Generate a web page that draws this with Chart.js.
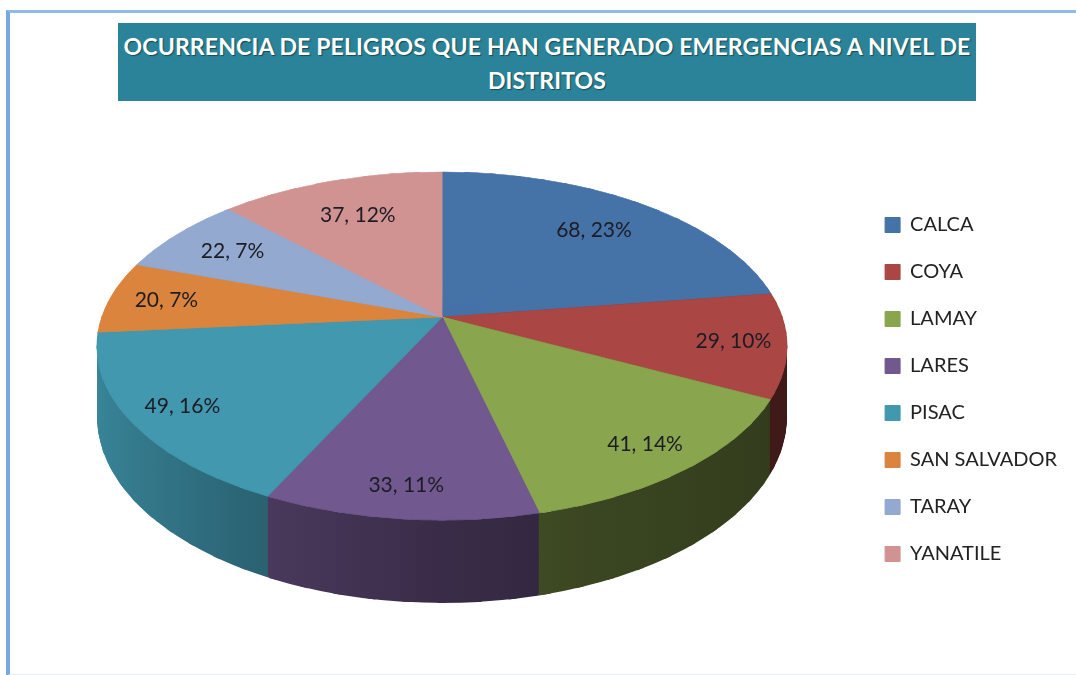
<!DOCTYPE html>
<html>
<head>
<meta charset="utf-8">
<title>Ocurrencia de peligros por distrito</title>
<script src="https://cdn.jsdelivr.net/npm/chart.js@4.4.0/dist/chart.umd.min.js"></script>
<style>
  html, body { margin: 0; padding: 0; background: #fff; }
  body { width: 1076px; height: 675px; position: relative; overflow: hidden; font-family: Lato, "Open Sans", sans-serif; }
  .frame {
    position: absolute; left: 6px; top: 10px; width: 1100px; height: 661px;
    border-left: 4px solid #74aae0; border-top: 3px solid #8fbbe8; border-bottom: 2px solid #e3eef9;
  }
  #wrap { position: absolute; left: 0; top: 0; width: 1076px; height: 675px; }
  .title {
    position: absolute; left: 118px; top: 23px; width: 858px; height: 78px;
    box-sizing: border-box; padding-top: 6px;
    background: #2a8399; color: #fff; text-align: center;
    font-weight: 700; font-size: 23px; line-height: 34px; letter-spacing: 0.15px;
    text-shadow: 1px 1px 1px rgba(0, 0, 0, 0.45);
  }
</style>
</head>
<body>
<div class="frame"></div>
<div id="wrap"><canvas id="chartPie" width="1076" height="675"></canvas></div>
<div class="title">OCURRENCIA DE PELIGROS QUE HAN GENERADO EMERGENCIAS A NIVEL DE<br>DISTRITOS</div>
<script>
(function () {
  var districts = ["CALCA", "COYA", "LAMAY", "LARES", "PISAC", "SAN SALVADOR", "TARAY", "YANATILE"];
  var occurrences = [68, 29, 41, 33, 49, 20, 22, 37];
  var sliceColors = ["#4572A7", "#AA4643", "#89A54E", "#71588F", "#4198AF", "#DB843D", "#93A9CF", "#D19392"];

  // ── perspective view of a tilted disc (pie center, rim scale, tilt, wall depth) ──
  var VIEW = { cx: 442, cy: 317, C: 340, B: 169.2, a: 0.1667, D: 69.1 };
  var WEDGE = Math.PI / 36;      // 5° pieces, each drawn with its own affine view
  var MARGIN = 0.01;
  var WALL_STEPS = 90;
  var SIDE_SHADE = [[0, 0.88], [0.26, 0.66], [0.5, 0.5], [0.7, 0.42], [1, 0.36]];

  var total = occurrences.reduce(function (a, b) { return a + b; }, 0);

  function shade(hex, f) {
    var n = parseInt(hex.slice(1), 16);
    var r = Math.round(((n >> 16) & 255) * f);
    var g = Math.round(((n >> 8) & 255) * f);
    var b = Math.round((n & 255) * f);
    return "rgb(" + r + "," + g + "," + b + ")";
  }

  function project(u, v, h) {
    var w = 1 - VIEW.a * v;
    return [VIEW.cx + VIEW.C * u / w, VIEW.cy + (VIEW.B * v + VIEW.D * h) / w];
  }

  // affine map taking the chart's (center, rim@p1, rim@p2) onto their projections
  function wedgeView(ctx, a0, p1, p2, h) {
    var R = a0.outerRadius;
    var P0 = project(0, 0, h);
    var P1 = project(Math.cos(p1), Math.sin(p1), h);
    var P2 = project(Math.cos(p2), Math.sin(p2), h);
    var e1x = R * Math.cos(p1), e1y = R * Math.sin(p1);
    var e2x = R * Math.cos(p2), e2y = R * Math.sin(p2);
    var d1x = P1[0] - P0[0], d1y = P1[1] - P0[1];
    var d2x = P2[0] - P0[0], d2y = P2[1] - P0[1];
    var det = e1x * e2y - e2x * e1y;
    var m11 = (d1x * e2y - d2x * e1y) / det, m12 = (d2x * e1x - d1x * e2x) / det;
    var m21 = (d1y * e2y - d2y * e1y) / det, m22 = (d2y * e1x - d1y * e2x) / det;
    ctx.transform(m11, m21, m12, m22,
      P0[0] - m11 * a0.x - m12 * a0.y,
      P0[1] - m21 * a0.x - m22 * a0.y);
    // clip starts a little behind the center so neighbouring pieces overlap there too
    var mid = (p1 + p2) / 2;
    ctx.beginPath();
    ctx.moveTo(a0.x - Math.cos(mid) * R * 0.04, a0.y - Math.sin(mid) * R * 0.04);
    ctx.arc(a0.x, a0.y, R * 1.05, p1 - MARGIN, p2 + MARGIN);
    ctx.closePath();
    ctx.clip();
  }

  function overlaps(arc, p1, p2) {
    return arc.startAngle < p2 + MARGIN && arc.endAngle > p1 - MARGIN;
  }

  var pie3d = {
    id: "pie3d",
    beforeDatasetsDraw: function (chart) {
      var ctx = chart.ctx;
      var arcs = chart.getDatasetMeta(0).data;
      var a0 = arcs[0];
      var R = a0.outerRadius;
      var start = -Math.PI / 2;
      var n = Math.round(2 * Math.PI / WEDGE);

      var grads = arcs.map(function (arc, i) {
        var g = ctx.createLinearGradient(a0.x - R, 0, a0.x + R, 0);
        SIDE_SHADE.forEach(function (s) { g.addColorStop(s[0], shade(sliceColors[i], s[1])); });
        return g;
      });

      // side wall, deepest layer first
      for (var k = WALL_STEPS; k >= 1; k--) {
        var h = k / WALL_STEPS;
        for (var w = 0; w < n; w++) {
          var p1 = start + w * WEDGE, p2 = p1 + WEDGE;
          if (p2 < -0.3 || p1 > Math.PI + 0.3) continue;
          ctx.save();
          wedgeView(ctx, a0, p1, p2, h);
          arcs.forEach(function (arc, i) {
            if (!overlaps(arc, p1, p2)) return;
            ctx.beginPath();
            ctx.moveTo(arc.x, arc.y);
            ctx.arc(arc.x, arc.y, arc.outerRadius, arc.startAngle, arc.endAngle);
            ctx.closePath();
            ctx.fillStyle = grads[i];
            ctx.fill();
          });
          ctx.restore();
        }
      }

      // top face: the chart's own arc elements, piece by piece
      for (var j = 0; j < n; j++) {
        var q1 = start + j * WEDGE, q2 = q1 + WEDGE;
        ctx.save();
        wedgeView(ctx, a0, q1, q2, 0);
        arcs.forEach(function (arc) {
          if (overlaps(arc, q1, q2)) arc.draw(ctx, chart.chartArea);
        });
        ctx.restore();
      }

      // "value, percent" labels
      ctx.save();
      ctx.font = "21px Lato, 'Open Sans', sans-serif";
      ctx.fillStyle = "#1c1c24";
      ctx.textAlign = "center";
      ctx.textBaseline = "middle";
      arcs.forEach(function (arc, i) {
        var mid = (arc.startAngle + arc.endAngle) / 2;
        var s = Math.sin(mid), c = Math.cos(mid);
        var rho = 0.79 + 0.07 * s + 0.05 * Math.pow(c, 4);
        var p = project(rho * c, rho * s, 0);
        var pct = Math.round(occurrences[i] / total * 100);
        ctx.fillText(occurrences[i] + ", " + pct + "%", p[0], p[1]);
      });
      ctx.restore();
      return false;
    }
  };

  new Chart(document.getElementById("chartPie"), {
    type: "pie",
    data: {
      labels: districts,
      datasets: [{
        data: occurrences,
        backgroundColor: sliceColors,
        borderColor: sliceColors,
        borderWidth: 1,
        clip: false,
      }],
    },
    options: {
      responsive: false,
      animation: false,
      layout: { padding: { top: 104, bottom: 0, left: 0, right: 9 } },
      plugins: {
        legend: {
          position: "right",
          labels: {
            boxWidth: 15,
            boxHeight: 15,
            padding: 27,
            color: "#222",
            font: { family: "Lato", size: 20 },
          },
        },
        tooltip: { enabled: false },
      },
    },
    plugins: [pie3d],
  });
})();
</script>
</body>
</html>
